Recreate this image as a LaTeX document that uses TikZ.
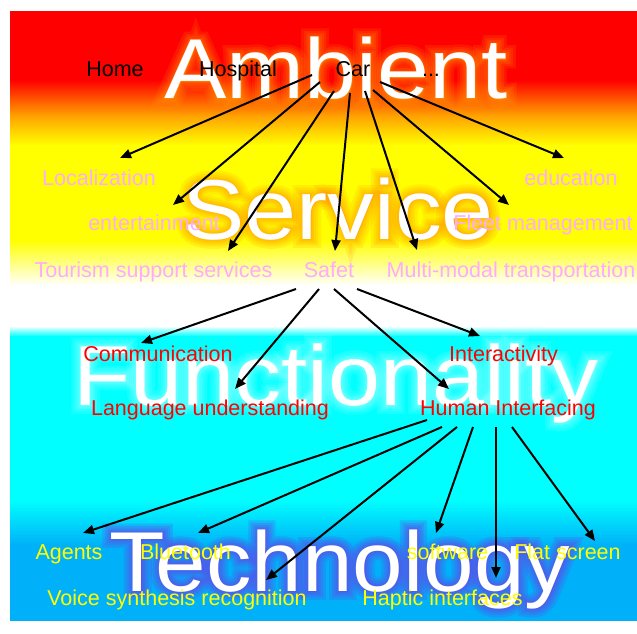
\documentclass[tikz,border=0pt]{standalone}
\usepackage{fontspec}
\setmainfont{Liberation Sans}
\newfontfamily\glowA[FakeBold=3]{Liberation Sans}
\newfontfamily\glowB[FakeBold=6]{Liberation Sans}
\newfontfamily\glowC[FakeBold=10]{Liberation Sans}
\newfontfamily\glowD[FakeBold=15]{Liberation Sans}
\newfontfamily\glowE[FakeBold=21]{Liberation Sans}
\usetikzlibrary{arrows.meta}
\definecolor{bgred}{RGB}{255,0,0}
\definecolor{bgorange}{RGB}{255,160,0}
\definecolor{bgyellow}{RGB}{255,255,0}
\definecolor{bgcyan}{RGB}{0,255,255}
\definecolor{bgblue}{RGB}{0,176,248}
\definecolor{pinktext}{RGB}{255,170,255}
\definecolor{redtext}{RGB}{255,0,0}
\definecolor{yellowtext}{RGB}{255,255,0}
\definecolor{glowamb}{RGB}{255,150,0}
\definecolor{glowser}{RGB}{255,150,0}
\definecolor{glowfun}{RGB}{235,255,255}
\definecolor{glowtec}{RGB}{90,80,235}
\newcommand{\glowword}[7]{% name, x, y, xscale, colour, opacity, word
  \begin{scope}[opacity=#6]
  \node[bigword, text=#5, font=\fontsize{85}{90}\glowE] (#1gE) at (#2,#3) {\scalebox{#4}[1]{#7}};
  \node[bigword, text=#5, font=\fontsize{85}{90}\glowD] (#1gD) at (#2,#3) {\scalebox{#4}[1]{#7}};
  \node[bigword, text=#5, font=\fontsize{85}{90}\glowC] (#1gC) at (#2,#3) {\scalebox{#4}[1]{#7}};
  \node[bigword, text=#5, font=\fontsize{85}{90}\glowB] (#1gB) at (#2,#3) {\scalebox{#4}[1]{#7}};
  \node[bigword, text=#5, font=\fontsize{85}{90}\glowA] (#1gA) at (#2,#3) {\scalebox{#4}[1]{#7}};
  \end{scope}
  \node[bigword] (#1) at (#2,#3) {\scalebox{#4}[1]{#7}};}
\begin{document}
\begin{tikzpicture}[x=1pt,y=-1pt,
  lbl/.style={inner sep=0pt, anchor=base, font=\fontsize{21.5}{24}\selectfont},
  bigword/.style={inner sep=0pt, anchor=base, font=\fontsize{85}{90}\selectfont, text=white},
  arr/.style={-{Triangle[length=11pt,width=9pt]}, line width=2pt, black},
  band/.style={draw=none}]
\useasboundingbox (0,0) rectangle (637,634);
% background bands
\fill[bgred] (10,11) rectangle (637,80.5);
\shade[top color=bgred, bottom color=bgorange, band] (10,80) rectangle (637,115.5);
\shade[top color=bgorange, bottom color=bgyellow, band] (10,115) rectangle (637,145.5);
\fill[bgyellow] (10,145) rectangle (637,240.5);
\shade[top color=bgyellow, bottom color=white, band] (10,240) rectangle (637,285.5);
\fill[white] (10,285) rectangle (637,326.5);
\shade[top color=white, bottom color=bgcyan, band] (10,326) rectangle (637,336.5);
\fill[bgcyan] (10,336) rectangle (637,500.5);
\shade[top color=bgcyan, bottom color=bgblue, band] (10,500) rectangle (637,545.5);
\fill[bgblue] (10,545) rectangle (637,621);
% big words with glow
\glowword{ambient}{336}{99}{1.1}{glowamb}{0.15}{Ambient}
\glowword{service}{338}{239}{1.1}{glowser}{0.16}{Service}
\glowword{functionality}{336}{405}{1.1}{glowfun}{0.1}{Functionality}
\glowword{technology}{340}{591}{1.07}{glowtec}{0.24}{Technology}
% labels
\node[lbl] (home) at (115,77) {Home};
\node[lbl] (hosp) at (238,77) {Hospital};
\node[lbl] (car) at (353,77) {Car};
\node[lbl] (dots) at (431,77) {...};
\node[lbl, text=pinktext] (loc) at (99,185) {Localization};
\node[lbl, text=pinktext] (edu) at (571,185) {education};
\node[lbl, text=pinktext] (ent) at (154,230) {entertainment};
\node[lbl, text=pinktext] (fleet) at (543,230) {Fleet management};
\node[lbl, text=pinktext] (tour) at (153.5,277) {Tourism support services};
\node[lbl, text=pinktext] (safet) at (329,277) {Safet};
\node[lbl, text=pinktext] (multi) at (511,277) {Multi-modal transportation};
\node[lbl, text=redtext] (comm) at (158,361) {Communication};
\node[lbl, text=redtext] (inter) at (503.5,361) {Interactivity};
\node[lbl, text=redtext] (lang) at (210,415) {Language understanding};
\node[lbl, text=redtext] (human) at (508,415) {Human Interfacing};
\node[lbl, text=yellowtext] (agents) at (69,559) {Agents};
\node[lbl, text=yellowtext] (bluet) at (185.5,559) {Bluetooth};
\node[lbl, text=yellowtext] (soft) at (447.5,559) {software};
\node[lbl, text=yellowtext] (flat) at (567.5,559) {Flat screen};
\node[lbl, text=yellowtext] (voice) at (177,605) {Voice synthesis recognition};
\node[lbl, text=yellowtext] (haptic) at (442.5,605) {Haptic interfaces};
% arrow end points
\coordinate (car1) at (312,75);  \coordinate (locT) at (120,158);
\coordinate (car2) at (320,82);  \coordinate (entT) at (173,205);
\coordinate (car3) at (334,91);  \coordinate (tourT) at (228,251);
\coordinate (car4) at (350,93);  \coordinate (safT) at (335,251);
\coordinate (car5) at (365,91);  \coordinate (multT) at (417,250);
\coordinate (car6) at (373,90);  \coordinate (fleetT) at (509,205);
\coordinate (car7) at (380,82);  \coordinate (eduT) at (564,158);
\coordinate (saf1) at (296,289); \coordinate (commT) at (141,343);
\coordinate (saf2) at (319,289); \coordinate (langT) at (235,389);
\coordinate (saf3) at (334,289); \coordinate (humT) at (449,389);
\coordinate (saf4) at (357,289); \coordinate (interT) at (480,336);
\coordinate (hum1) at (427,420); \coordinate (agT) at (83,533);
\coordinate (hum2) at (442,427); \coordinate (blT) at (198,533);
\coordinate (hum3) at (457,427); \coordinate (voT) at (266,580);
\coordinate (hum4) at (473,427); \coordinate (soT) at (436,533);
\coordinate (hum5) at (496,427); \coordinate (haT) at (496,578);
\coordinate (hum6) at (512,427); \coordinate (flT) at (595,541);
% arrows
\draw[arr] (car1) -- (locT);
\draw[arr] (car2) -- (entT);
\draw[arr] (car3) -- (tourT);
\draw[arr] (car4) -- (safT);
\draw[arr] (car5) -- (multT);
\draw[arr] (car6) -- (fleetT);
\draw[arr] (car7) -- (eduT);
\draw[arr] (saf1) -- (commT);
\draw[arr] (saf2) -- (langT);
\draw[arr] (saf3) -- (humT);
\draw[arr] (saf4) -- (interT);
\draw[arr] (hum1) -- (agT);
\draw[arr] (hum2) -- (blT);
\draw[arr] (hum3) -- (voT);
\draw[arr] (hum4) -- (soT);
\draw[arr] (hum5) -- (haT);
\draw[arr] (hum6) -- (flT);
\end{tikzpicture}
\end{document}
